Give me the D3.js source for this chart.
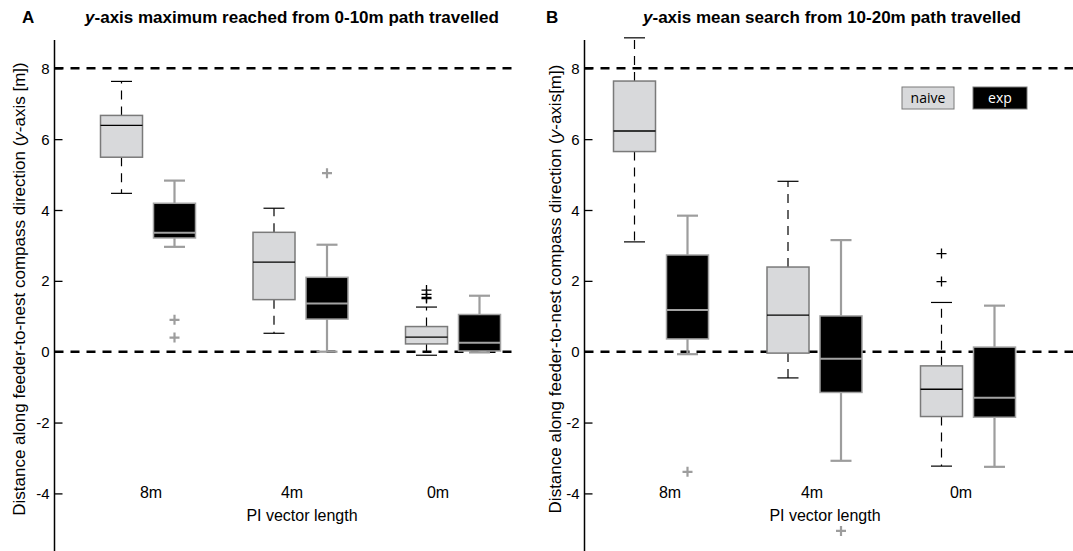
<!DOCTYPE html>
<html>
<head>
<meta charset="utf-8">
<script src="https://cdn.jsdelivr.net/npm/d3@7"></script>
<style>
  html, body { margin: 0; padding: 0; background: #fff; }
  svg { display: block; }
</style>
</head>
<body>
<svg id="chart" width="1073" height="551"></svg>
<script>
// ---------- data ----------
const categories = ["8m", "4m", "0m"];
const seriesNames = ["naive", "exp"];
const yTicks = [-4, -2, 0, 2, 4, 6, 8];
const refLines = [0, 8];

// [lowerWhisker, Q1, median, Q3, upperWhisker]
const aNaive = [[4.47, 5.49, 6.39, 6.67, 7.63], [0.52, 1.47, 2.53, 3.37, 4.05], [-0.10, 0.22, 0.41, 0.71, 1.26]];
const aExp   = [[2.96, 3.21, 3.36, 4.19, 4.83], [0.00, 0.92, 1.36, 2.10, 3.02], [-0.02, 0.02, 0.25, 1.05, 1.58]];
const aNaiveOut = [[], [], [1.50, 1.53, 1.62, 1.74]];
const aExpOut   = [[0.40, 0.90], [5.04], []];

const bNaive = [[3.10, 5.65, 6.23, 7.64, 8.86], [-0.74, -0.04, 1.03, 2.39, 4.81], [-3.23, -1.83, -1.06, -0.40, 1.39]];
const bExp   = [[-0.07, 0.36, 1.18, 2.73, 3.84], [-3.08, -1.15, -0.20, 1.01, 3.15], [-3.25, -1.85, -1.30, 0.13, 1.30]];
const bNaiveOut = [[], [], [1.98, 2.77]];
const bExpOut   = [[-3.39], [-5.06], []];

// ---------- drawing ----------
const svg = d3.select("#chart");
const FONT = "'Liberation Sans', Arial, sans-serif";

const y = d3.scaleLinear().domain([0, 8]).range([351.7, 68.3]);

const styles = {
  naive: { fill: "#d8d9db", edge: "#7a7a7a", median: "#000", whisker: "#000", wdash: "9,7", wwidth: 1.2, cap: "#000", capw: 1.2, out: "#000", outw: 1.3 },
  exp:   { fill: "#000000", edge: "#a3a3a3", median: "#a3a3a3", whisker: "#9d9d9d", wdash: null, wwidth: 2.2, cap: "#9d9d9d", capw: 2.2, out: "#9d9d9d", outw: 2.2 }
};

function panel(cfg) {
  const g = svg.append("g");
  const x = d3.scalePoint().domain(categories).range(cfg.groupRange);
  const off = d3.scalePoint().domain(seriesNames).range([-cfg.half, cfg.half]);
  const boxW = 42, capW = 21;

  // reference dashed lines
  g.selectAll("line.ref").data(refLines).join("line")
    .attr("x1", cfg.axisX).attr("x2", cfg.refEnd)
    .attr("y1", d => y(d)).attr("y2", d => y(d))
    .attr("stroke", "#000").attr("stroke-width", 2.6).attr("stroke-dasharray", "9,7");

  // y axis
  const axis = d3.axisRight(y).tickValues(yTicks).tickSize(8).tickFormat("");
  const ax = g.append("g").attr("transform", `translate(${cfg.axisX},0)`).call(axis);
  ax.select(".domain").remove();
  ax.selectAll(".tick line").attr("stroke", "#000").attr("stroke-width", 1.3);
  g.append("line").attr("x1", cfg.axisX).attr("x2", cfg.axisX)
    .attr("y1", 40).attr("y2", 551).attr("stroke", "#000").attr("stroke-width", 1.5);
  g.selectAll("text.ytl").data(yTicks).join("text")
    .attr("x", cfg.axisX - 5).attr("y", d => y(d) + 5.5)
    .attr("text-anchor", "end").attr("font-family", FONT).attr("font-size", 15)
    .text(d => d < 0 ? "-" + Math.abs(d) : d);

  const sets = [
    { name: "naive", stats: cfg.naive, outs: cfg.naiveOut },
    { name: "exp", stats: cfg.exp, outs: cfg.expOut }
  ];
  sets.forEach(s => {
    const st = styles[s.name];
    categories.forEach((c, i) => {
      const [lo, q1, med, q3, hi] = s.stats[i];
      const cx = x(c) + off(s.name);
      const bg = g.append("g");
      // whiskers
      bg.append("line").attr("x1", cx).attr("x2", cx).attr("y1", y(q3)).attr("y2", y(hi))
        .attr("stroke", st.whisker).attr("stroke-width", st.wwidth).attr("stroke-dasharray", st.wdash);
      bg.append("line").attr("x1", cx).attr("x2", cx).attr("y1", y(q1)).attr("y2", y(lo))
        .attr("stroke", st.whisker).attr("stroke-width", st.wwidth).attr("stroke-dasharray", st.wdash);
      // caps
      [lo, hi].forEach(v => {
        bg.append("line").attr("x1", cx - capW / 2).attr("x2", cx + capW / 2).attr("y1", y(v)).attr("y2", y(v))
          .attr("stroke", st.cap).attr("stroke-width", st.capw);
      });
      // box
      bg.append("rect").attr("x", cx - boxW / 2).attr("width", boxW)
        .attr("y", y(q3)).attr("height", Math.max(0.5, y(q1) - y(q3)))
        .attr("fill", st.fill).attr("stroke", st.edge).attr("stroke-width", 1.5);
      // median
      bg.append("line").attr("x1", cx - boxW / 2).attr("x2", cx + boxW / 2).attr("y1", y(med)).attr("y2", y(med))
        .attr("stroke", st.median).attr("stroke-width", s.name === "exp" ? 2 : 1.3);
      // outliers
      s.outs[i].forEach(v => {
        bg.append("path").attr("d", `M${cx - 5},${y(v)}H${cx + 5}M${cx},${y(v) - 5}V${y(v) + 5}`)
          .attr("stroke", st.out).attr("stroke-width", st.outw).attr("fill", "none");
      });
    });
  });

  // x tick labels
  g.selectAll("text.xtl").data(categories).join("text")
    .attr("x", (d, i) => cfg.xLabelPos(d, i)).attr("y", 498)
    .attr("text-anchor", "middle").attr("font-family", FONT).attr("font-size", 16)
    .text(d => d);
  g.append("text").attr("x", cfg.xTitleX).attr("y", 521)
    .attr("text-anchor", "middle").attr("font-family", FONT).attr("font-size", 16)
    .text("PI vector length");

  // y title
  const yt = g.append("text")
    .attr("transform", `translate(${cfg.yTitleX},${289}) rotate(-90)`)
    .attr("text-anchor", "middle").attr("font-family", FONT).attr("font-size", 17);
  yt.append("tspan").text("Distance along feeder-to-nest compass direction (");
  yt.append("tspan").attr("font-style", "italic").text("y");
  yt.append("tspan").text(cfg.yTitleTail);

  // panel title
  g.append("text").attr("x", cfg.letterX).attr("y", 23)
    .attr("font-family", FONT).attr("font-size", 17).attr("font-weight", "bold").text(cfg.letter);
  const tt = g.append("text").attr("x", cfg.titleX).attr("y", 23).attr("text-anchor", "middle")
    .attr("font-family", FONT).attr("font-size", 17).attr("font-weight", "bold");
  tt.append("tspan").attr("font-style", "italic").text("y");
  tt.append("tspan").text(cfg.title);
  return g;
}

panel({
  axisX: 54.5, refEnd: 515, groupRange: [148, 453], half: 26.5,
  naive: aNaive, exp: aExp, naiveOut: aNaiveOut, expOut: aExpOut,
  xLabelPos: (d, i) => [151, 292, 438][i], xTitleX: 302, yTitleX: 25,
  yTitleTail: "-axis [m])", letter: "A", letterX: 22, titleX: 292,
  title: "-axis maximum reached from 0-10m path travelled"
});

panel({
  axisX: 584.5, refEnd: 1073, groupRange: [661, 968], half: 26.5,
  naive: bNaive, exp: bExp, naiveOut: bNaiveOut, expOut: bExpOut,
  xLabelPos: (d, i) => [670, 812, 961][i], xTitleX: 825, yTitleX: 560.5,
  yTitleTail: "-axis[m])", letter: "B", letterX: 546, titleX: 832,
  title: "-axis mean search from 10-20m path travelled"
});

// legend
const leg = [
  { name: "naive", x: 902, w: 52, fill: "#d8d9db", stroke: "#7a7a7a", text: "#000" },
  { name: "exp", x: 973, w: 54, fill: "#000", stroke: "#7a7a7a", text: "#fff" }
];
const lg = svg.append("g");
lg.selectAll("rect").data(leg).join("rect")
  .attr("x", d => d.x).attr("y", 87).attr("width", d => d.w).attr("height", 22)
  .attr("fill", d => d.fill).attr("stroke", d => d.stroke).attr("stroke-width", 1);
lg.selectAll("text").data(leg).join("text")
  .attr("x", d => d.x + d.w / 2).attr("y", 103)
  .attr("text-anchor", "middle").attr("font-family", "'Open Sans', sans-serif").attr("font-size", 14)
  .attr("fill", d => d.text).text(d => d.name);
</script>
</body>
</html>
